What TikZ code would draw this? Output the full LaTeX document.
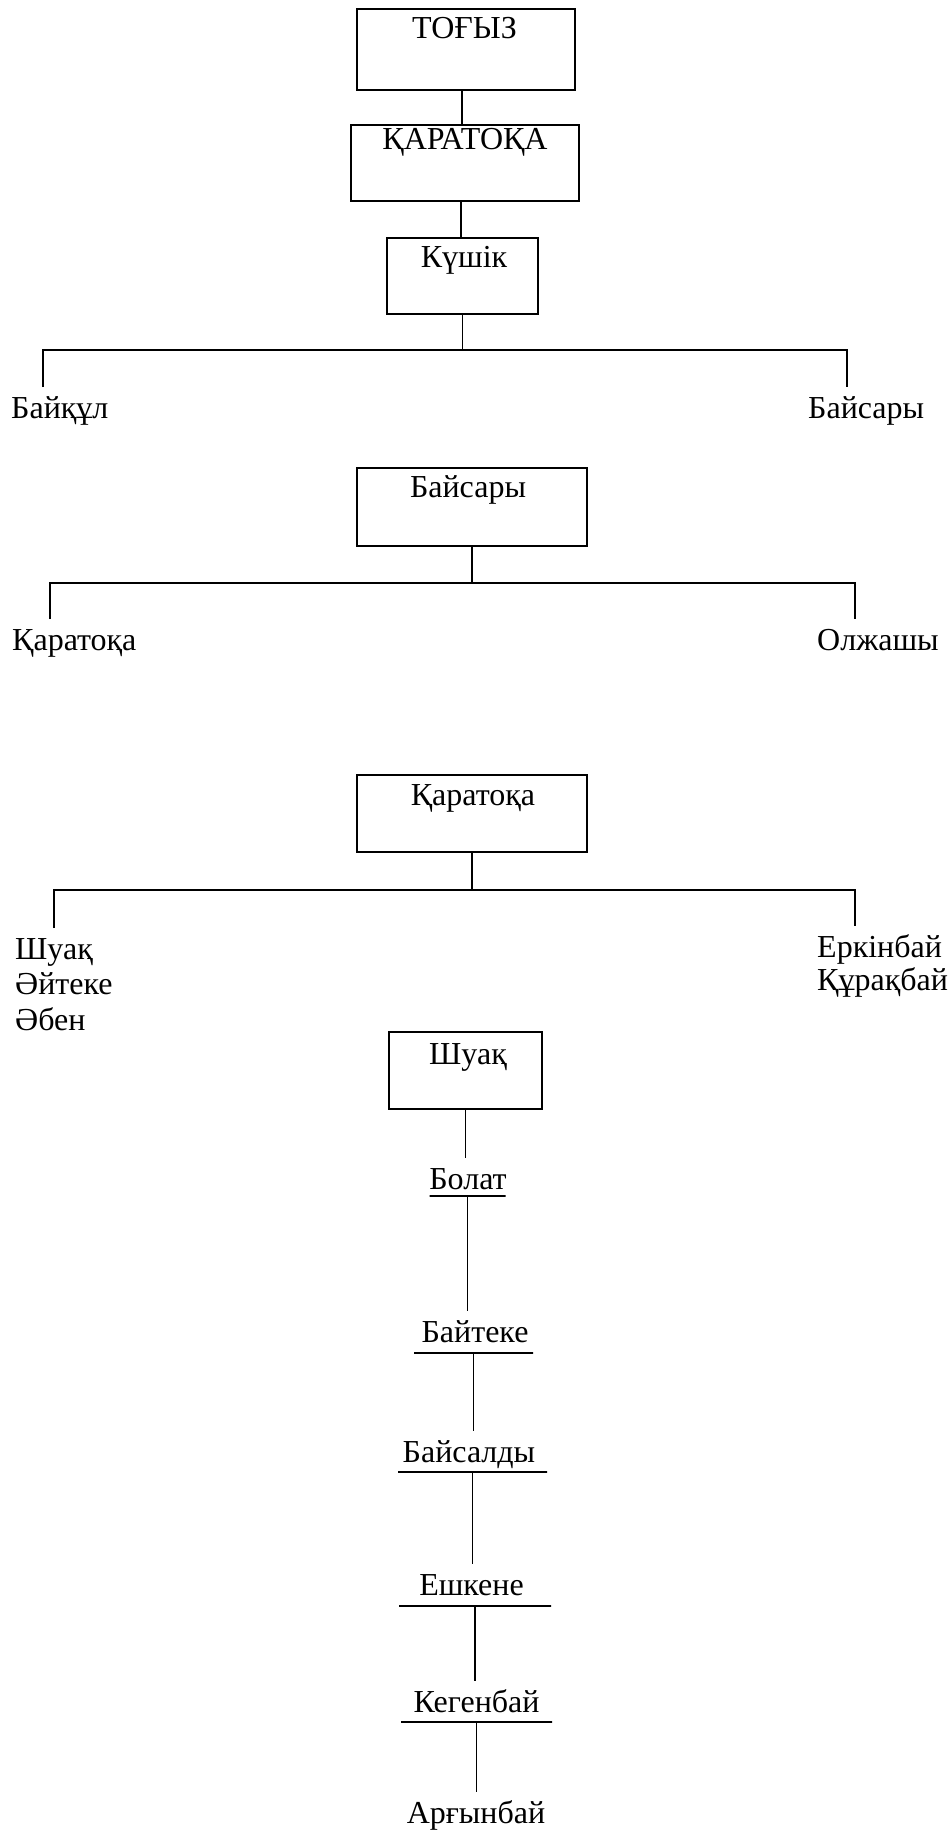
\documentclass[tikz,border=0pt]{standalone}
\usepackage{fontspec}
\setmainfont{Liberation Serif}
\newcommand{\fs}{\fontsize{32pt}{35pt}\selectfont}
\begin{document}
\begin{tikzpicture}[x=1pt,y=-1pt,
  box/.style={draw, line width=2pt, inner sep=0pt},
  lbl/.style={font=\fs, inner sep=0pt, anchor=base},
  nm/.style={font=\fs, inner sep=0pt, text height=22pt, text depth=0pt, outer ysep=9pt},
  conn/.style={line width=1.9pt},
  uline/.style={draw, line width=1.9pt, inner sep=0pt, minimum height=0pt, outer sep=0pt}]
\useasboundingbox (0,0) rectangle (952,1832);

% top chain
\node[box, minimum width=218pt, minimum height=81pt] (b1) at (466,49.5) {};
\node[lbl] (t1) at (464.5,38) {ТОҒЫЗ};
\node[box, minimum width=228pt, minimum height=76pt] (b2) at (465,163) {};
\node[lbl] (t2) at (465,149) {ҚАРАТОҚА};
\node[box, minimum width=151pt, minimum height=76pt] (b3) at (462.5,276) {};
\node[lbl] (t3) at (464,267) {Күшік};
\draw[conn] ([xshift=-4pt]b1.south) -- ([xshift=-4pt]b1.south |- b2.north);
\draw[conn] ([xshift=-4pt]b2.south) -- ([xshift=-4pt]b2.south |- b3.north);

\coordinate (r1L) at (43,350);
\coordinate (r1R) at (847,350);
\node[nm, anchor=base west] (baikul) at (11,418) {Байқұл};
\node[nm, anchor=base west] (baisaryA) at (808,418) {Байсары};
\draw[conn] (b3.south) -- (b3.south |- r1L);
\draw[conn] (r1L |- baikul.north) -- (r1L) -- (r1R) -- (r1R |- baisaryA.north);

% Baisary
\node[box, minimum width=230pt, minimum height=78pt] (b4) at (472,507) {};
\node[lbl] (t4) at (468,497) {Байсары};
\coordinate (r2L) at (50,583);
\coordinate (r2R) at (855,583);
\node[nm, anchor=base west] (karatokaA) at (12,650) {Қаратоқа};
\node[nm, anchor=base west] (olzhashy) at (817,650) {Олжашы};
\draw[conn] (b4.south) -- (b4.south |- r2L);
\draw[conn] (r2L |- karatokaA.north) -- (r2L) -- (r2R) -- (r2R |- olzhashy.north);

% Karatoka
\node[box, minimum width=230pt, minimum height=77pt] (b5) at (472,813.5) {};
\node[lbl] (t5) at (473,805) {Қаратоқа};
\coordinate (r3L) at (54,890);
\coordinate (r3R) at (855,890);
\node[nm, anchor=base west] (shuaqA) at (15,959) {Шуақ};
\node[nm, anchor=base west] (aiteke) at (15,994) {Әйтеке};
\node[nm, anchor=base west] (aben) at (15,1030) {Әбен};
\node[nm, anchor=base west] (erkinbai) at (817,957) {Еркінбай};
\node[nm, anchor=base west] (kurakbai) at (817,990) {Құрақбай};
\draw[conn] (b5.south) -- (b5.south |- r3L);
\draw[conn] (r3L |- shuaqA.north) -- (r3L) -- (r3R) -- (r3R |- erkinbai.north);

% Shuaq chain
\node[box, minimum width=153pt, minimum height=77pt] (b6) at (465.5,1070.5) {};
\node[lbl] (t6) at (468,1064) {Шуақ};

\node[nm, anchor=base] (bolat) at (468,1189) {Болат};
\node[uline, minimum width=76pt] (bolatU) at (467.5,1196) {};
\node[nm, anchor=base] (baiteke) at (475,1342) {Байтеке};
\node[uline, minimum width=119pt] (baitekeU) at (473.5,1353) {};
\node[nm, anchor=base] (baisaldy) at (469,1462) {Байсалды};
\node[uline, minimum width=149pt] (baisaldyU) at (472.5,1472) {};
\node[nm, anchor=base] (eshkene) at (471.5,1595) {Ешкене};
\node[uline, minimum width=152pt] (eshkeneU) at (475,1606) {};
\node[nm, anchor=base] (kegenbai) at (476.5,1712) {Кегенбай};
\node[uline, minimum width=151pt] (kegenbaiU) at (476.5,1722) {};
\node[nm, anchor=base] (argynbai) at (476,1823) {Арғынбай};

\draw[conn] (b6.south) -- (b6.south |- bolat.north);
\draw[conn] (bolatU.south) -- (bolatU.south |- baiteke.north);
\draw[conn] (baitekeU.south) -- (baitekeU.south |- baisaldy.north);
\draw[conn] (baisaldyU.south) -- (baisaldyU.south |- eshkene.north);
\draw[conn] (eshkeneU.south) -- (eshkeneU.south |- kegenbai.north);
\draw[conn] (kegenbaiU.south) -- (kegenbaiU.south |- argynbai.north);
\end{tikzpicture}
\end{document}
